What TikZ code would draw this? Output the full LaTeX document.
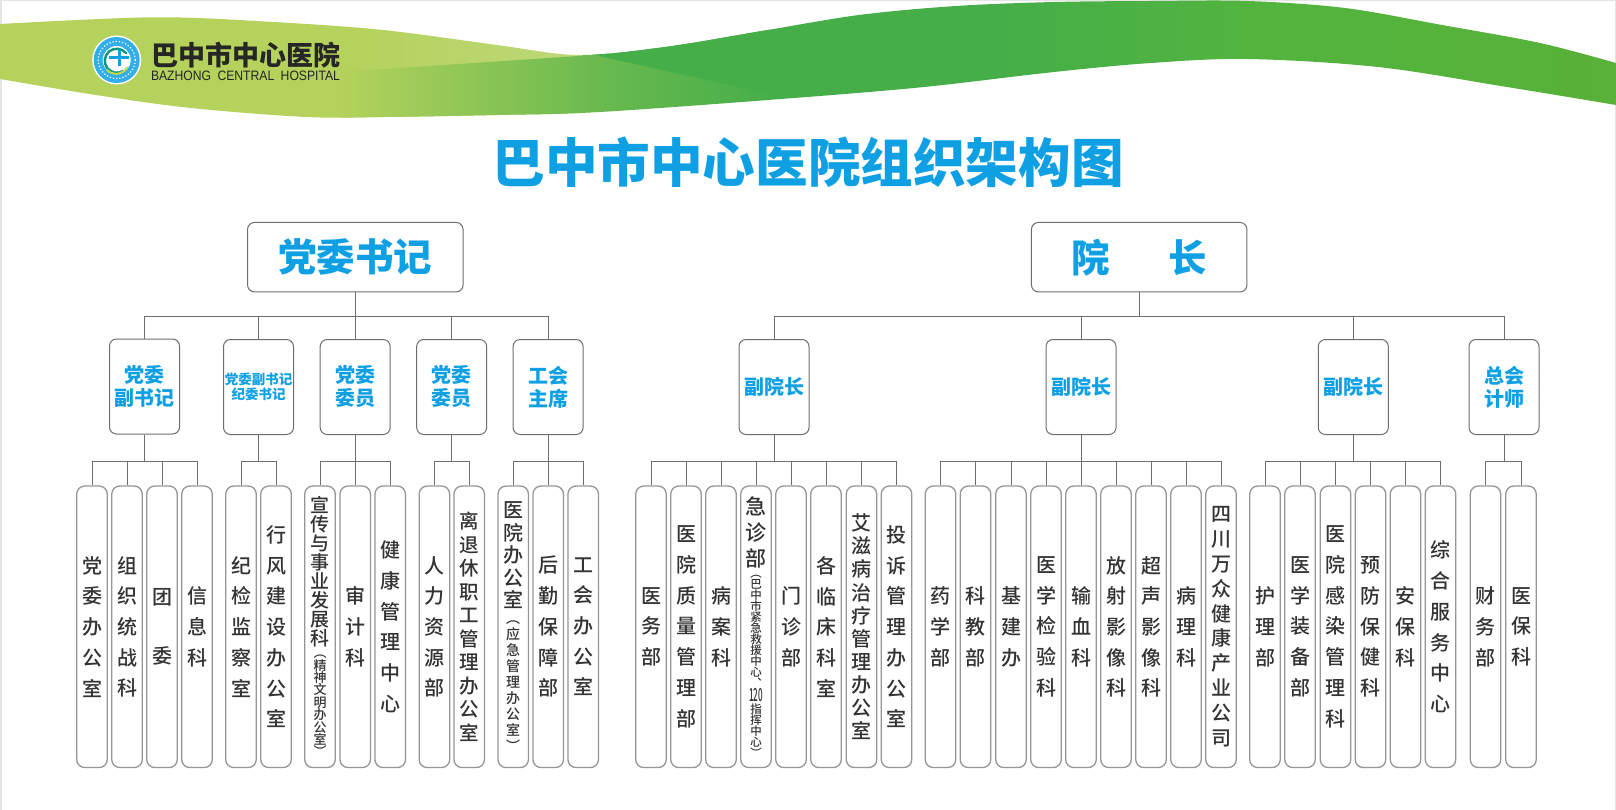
\documentclass[tikz,border=0pt]{standalone}
\usepackage{fontspec}
\usepackage{graphicx}
\setmainfont{Noto Sans CJK SC}
\newfontfamily\medfont{Noto Sans CJK SC Medium}
\newfontfamily\enfont{Liberation Sans}
\usetikzlibrary{calc}
\definecolor{blueT}{HTML}{0FA0E4}
\definecolor{lineC}{HTML}{6E6E6E}
\definecolor{leafL}{HTML}{969696}
\definecolor{leafT}{HTML}{333333}
\definecolor{gA}{HTML}{B4D25C}
\definecolor{gB}{HTML}{BDD878}
\definecolor{gC}{HTML}{46AE49}
\definecolor{gD}{HTML}{52B43F}
\definecolor{gE}{HTML}{58B138}
\ExplSyntaxOn
\NewDocumentCommand\VT{mmm}{
  \fontsize{#1}{#2}\medfont
  \baselineskip=#2pt\relax
  \lineskiplimit=-100pt\relax
  \tl_map_inline:nn{#3}{\hbox to 0pt{\hss ##1\hss}}
}
\ExplSyntaxOff
\newcommand{\Vt}[1]{\vbox{\VT{20}{30.7}{#1}}}
\newcommand{\swooshpath}{plot[smooth,tension=.55] coordinates{(0,24)(153,17.3)(268,21.7)(383,30)(497,45)(578,55)(665,47)(762,31)(859,15)(956,6)(1054,2)(1151,1)(1248,1)(1345,8)(1442,25)(1540,43)(1616,63)} -- plot[smooth,tension=.55] coordinates{(1616,105)(1507,87)(1378,67)(1248,59)(1151,63)(1054,72)(924,87)(794,98)(600,112)(497,115)(383,117)(306,117)(191,108)(96,95)(0,79)} -- cycle}
\tikzset{
  conn/.style={draw=lineC,line width=.9pt},
  leafbox/.style={draw=leafL,line width=1.3pt,fill=white,rounded corners=8pt,minimum width=30.5pt,minimum height=281.5pt,inner sep=0pt,text=leafT},
  midbox/.style={draw=lineC,line width=1pt,fill=white,rounded corners=7pt,minimum width=70pt,minimum height=95pt,inner sep=0pt,text=blueT,align=center,font=\fontsize{20}{23}\selectfont\bfseries},
  topbox/.style={draw=lineC,line width=1pt,fill=white,rounded corners=7pt,minimum width=215.5pt,minimum height=69.5pt,inner sep=0pt,text=blueT,font=\fontsize{38.5}{40}\selectfont\bfseries},
}
\begin{document}
\begin{tikzpicture}[x=1pt,y=-1pt]
\useasboundingbox (0,0) rectangle (1616,810);
% page frame
\fill[white] (0,0) rectangle (1616,810);
\fill[black!10] (0,0) rectangle (1616,1.2);
\fill[black!10] (0,0) rectangle (2,810);
\fill[black!10] (1615,0) rectangle (1616,810);
% swoosh
\begin{scope}
\clip \swooshpath;
\fill[gA] (0,0) rectangle (350,130);
\shade[left color=gA,right color=gB] (350,0) rectangle (580,130);
\end{scope}
\begin{scope}
\clip \swooshpath;
\clip (340,72) -- (578,56) -- (590,54) -- (590,0) -- (1616,0) -- (1616,130) -- (340,130) -- cycle;
\shade[left color=gA,right color=gC!70!gA] (340,0) rectangle (610,130);
\shade[left color=gC!70!gA,right color=gC] (610,0) rectangle (770,130);
\fill[gC] (770,0) rectangle (1000,130);
\shade[left color=gC,right color=gD] (1000,0) rectangle (1250,130);
\shade[left color=gD,right color=gE] (1250,0) rectangle (1616,130);
\end{scope}
\begin{scope}
\clip \swooshpath;
\fill[gC] (590,54) -- (770,94) -- (770,0) -- (590,0) -- cycle;
\end{scope}
% logo
\fill[white] (116.7,60) circle[radius=24.5pt];
\fill[blueT!85!white] (116.7,60) circle[radius=23pt];
\draw[white,line width=1.2pt,dotted] (116.7,60) circle[radius=18.5pt];
\fill[white] (116.7,60) circle[radius=14pt];
\draw[blueT!70!green!80!black,line width=2.4pt,line cap=round] (126,53) arc[start angle=40,end angle=300,radius=12pt];
\draw[gA!80!yellow,line width=2pt,line cap=round] (107,70) arc[start angle=225,end angle=330,radius=13pt];
\draw[blueT,line width=3pt] (119,50) -- (119,66);
\draw[blueT,line width=3pt] (109,58) -- (129,58);
% logo text
\node[text=black!85,inner sep=0pt,font=\fontsize{27}{27}\selectfont\bfseries] (logocn) at (245.5,55) {巴中市中心医院};
\node[text=black!85,inner sep=0pt] (logoen) at (245.5,75.5) {\enfont\resizebox{189pt}{9.5pt}{BAZHONG\hspace{.25em} CENTRAL\hspace{.25em} HOSPITAL}};
% title
\node[text=blueT,inner sep=0pt,font=\fontsize{52.6}{52.6}\selectfont\bfseries] (title) at (808,162) {巴中市中心医院组织架构图};
% top
\node[topbox] (P) at (355.3,257.2) {党委书记};
\node[topbox] (D) at (1139.2,257.2) {院\hspace{58pt}长};
% mid
\node[midbox] (p1) at (144.5,386.5) {党委\\副书记};
\node[midbox,font=\fontsize{13.5}{15}\selectfont\bfseries] (p2) at (258.5,387) {党委副书记\\纪委书记};
\node[midbox] (p3) at (355.2,387) {党委\\委员};
\node[midbox] (p4) at (451.7,387) {党委\\委员};
\node[midbox] (p5) at (548.1,387) {工会\\主席};
\node[midbox] (d1) at (774,387) {副院长};
\node[midbox] (d2) at (1081,387) {副院长};
\node[midbox] (d3) at (1353.3,387) {副院长};
\node[midbox] (d4) at (1504,387) {总会\\计师};
\coordinate (busA) at (0,316);
\coordinate (busB) at (0,461.5);
% leaves
\def\ly{626.8}
\node[leafbox] (a1) at (92,\ly) {\Vt{党委办公室}};
\node[leafbox] (a2) at (127,\ly) {\Vt{组织统战科}};
\node[leafbox] (a3) at (162,\ly) {\vbox{\VT{20}{58.3}{团委}}};
\node[leafbox] (a4) at (197,\ly) {\Vt{信息科}};
\node[leafbox] (b1) at (241,\ly) {\Vt{纪检监察室}};
\node[leafbox] (b2) at (276,\ly) {\Vt{行风建设办公室}};
\node[leafbox] (c1) at (320,\ly) {\vbox{\VT{19}{18.9}{宣传与事业发展科}\VT{13}{12.4}{︵精神文明办公室︶}}};
\node[leafbox] (c2) at (355.2,\ly) {\Vt{审计科}};
\node[leafbox] (c3) at (390.2,\ly) {\Vt{健康管理中心}};
\node[leafbox] (e1) at (434.4,\ly) {\Vt{人力资源部}};
\node[leafbox] (e2) at (469.2,\ly) {\vbox{\VT{19.5}{23.5}{离退休职工管理办公室}}};
\node[leafbox] (f1) at (513.2,\ly) {\vbox{\VT{20}{22.5}{医院办公室}\VT{14}{16}{︵应急管理办公室︶}}};
\node[leafbox] (f2) at (548.2,\ly) {\Vt{后勤保障部}};
\node[leafbox] (f3) at (583.2,\ly) {\Vt{工会办公室}};
\node[leafbox] (g1) at (651,\ly) {\Vt{医务部}};
\node[leafbox] (g2) at (686,\ly) {\Vt{医院质量管理部}};
\node[leafbox] (g3) at (721,\ly) {\Vt{病案科}};
\node[leafbox] (g4) at (756,\ly) {\vbox{\VT{21}{26}{急诊部}\VT{11.5}{11}{︵巴中市紧急救援中心︑}\VT{11.5}{14}{{\scalebox{.45}[1]{\fontsize{18}{18}\medfont 120}}}\VT{11.5}{11.7}{指}\VT{11.5}{11}{挥中心︶}}};
\node[leafbox] (g5) at (791,\ly) {\Vt{门诊部}};
\node[leafbox] (g6) at (826,\ly) {\Vt{各临床科室}};
\node[leafbox] (g7) at (861.5,\ly) {\vbox{\VT{20}{23.1}{艾滋病治疗管理办公室}}};
\node[leafbox] (g8) at (896.5,\ly) {\Vt{投诉管理办公室}};
\node[leafbox] (h1) at (940.5,\ly) {\Vt{药学部}};
\node[leafbox] (h2) at (975.5,\ly) {\Vt{科教部}};
\node[leafbox] (h3) at (1011,\ly) {\Vt{基建办}};
\node[leafbox] (h4) at (1046,\ly) {\Vt{医学检验科}};
\node[leafbox] (h5) at (1081,\ly) {\Vt{输血科}};
\node[leafbox] (h6) at (1116,\ly) {\Vt{放射影像科}};
\node[leafbox] (h7) at (1151,\ly) {\Vt{超声影像科}};
\node[leafbox] (h8) at (1186,\ly) {\Vt{病理科}};
\node[leafbox] (h9) at (1221,\ly) {\vbox{\VT{20}{24.8}{四川万众健康产业公司}}};
\node[leafbox] (i1) at (1265,\ly) {\Vt{护理部}};
\node[leafbox] (i2) at (1300,\ly) {\Vt{医学装备部}};
\node[leafbox] (i3) at (1335.5,\ly) {\Vt{医院感染管理科}};
\node[leafbox] (i4) at (1370.5,\ly) {\Vt{预防保健科}};
\node[leafbox] (i5) at (1405.5,\ly) {\Vt{安保科}};
\node[leafbox] (i6) at (1440.5,\ly) {\Vt{综合服务中心}};
\node[leafbox] (j1) at (1485.5,\ly) {\Vt{财务部}};
\node[leafbox] (j2) at (1521,\ly) {\Vt{医保科}};
% connectors
\foreach \c in {p1,p2,p3,p4,p5} \draw[conn] (P.south) |- (\c.north |- busA) -- (\c.north);
\foreach \c in {d1,d2,d3,d4} \draw[conn] (D.south) |- (\c.north |- busA) -- (\c.north);
\foreach \c in {a1,a2,a3,a4} \draw[conn] (p1.south) |- (\c.north |- busB) -- (\c.north);
\foreach \c in {b1,b2} \draw[conn] (p2.south) |- (\c.north |- busB) -- (\c.north);
\foreach \c in {c1,c2,c3} \draw[conn] (p3.south) |- (\c.north |- busB) -- (\c.north);
\foreach \c in {e1,e2} \draw[conn] (p4.south) |- (\c.north |- busB) -- (\c.north);
\foreach \c in {f1,f2,f3} \draw[conn] (p5.south) |- (\c.north |- busB) -- (\c.north);
\foreach \c in {g1,g2,g3,g4,g5,g6,g7,g8} \draw[conn] (d1.south) |- (\c.north |- busB) -- (\c.north);
\foreach \c in {h1,h2,h3,h4,h5,h6,h7,h8,h9} \draw[conn] (d2.south) |- (\c.north |- busB) -- (\c.north);
\foreach \c in {i1,i2,i3,i4,i5,i6} \draw[conn] (d3.south) |- (\c.north |- busB) -- (\c.north);
\foreach \c in {j1,j2} \draw[conn] (d4.south) |- (\c.north |- busB) -- (\c.north);
\end{tikzpicture}
\end{document}
